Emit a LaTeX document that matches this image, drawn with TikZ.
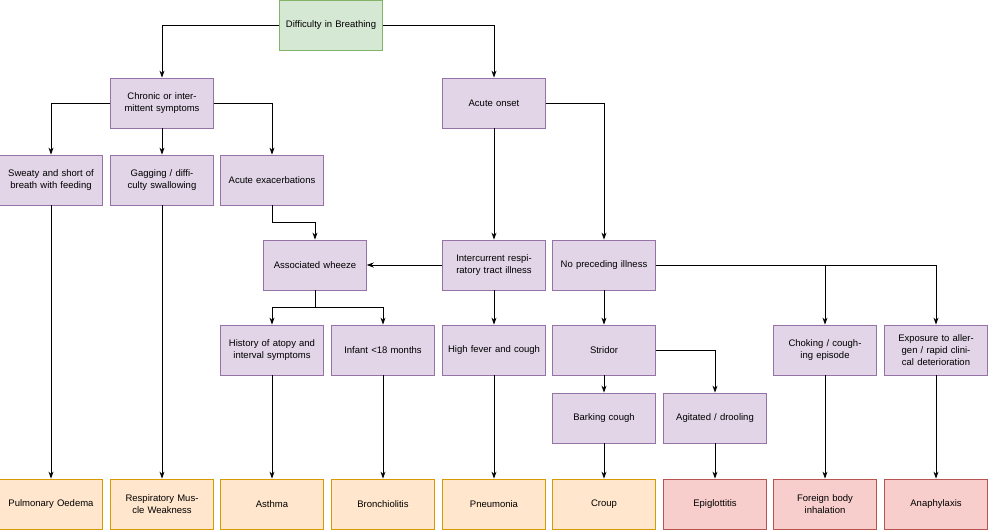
\documentclass[tikz,border=0pt]{standalone}
\usepackage{fontspec}
\setmainfont{Liberation Sans}
\usetikzlibrary{arrows.meta}
\definecolor{pfill}{HTML}{E1D5E7}\definecolor{pline}{HTML}{9673A6}
\definecolor{gfill}{HTML}{D5E8D4}\definecolor{gline}{HTML}{82B366}
\definecolor{ofill}{HTML}{FFE6CC}\definecolor{oline}{HTML}{D79B00}
\definecolor{rfill}{HTML}{F8CECC}\definecolor{rline}{HTML}{B85450}
\tikzset{
  box/.style={draw=pline, fill=pfill, line width=0.8pt, minimum width=102pt, minimum height=50pt,
    text width=96pt, align=center, font=\fontsize{9.5}{12}\selectfont},
  root/.style={box, draw=gline, fill=gfill},
  dx/.style={box, draw=oline, fill=ofill},
  urgent/.style={box, draw=rline, fill=rfill},
  arr/.style={-{Stealth[length=7pt,width=5pt]}, line width=0.8pt}
}
\begin{document}
\begin{tikzpicture}[x=1pt,y=-1pt]
\useasboundingbox (0,0) rectangle (988,530);
\node[root] (top) at (331,25) {Difficulty in Breathing};
\node[box] (chronic) at (162,103) {Chronic or intermittent symptoms};
\node[box] (acute) at (494,103) {Acute onset};
\node[box] (sweaty) at (51,180) {Sweaty and short of breath with feeding};
\node[box] (gag) at (162,180) {Gagging / difficulty swallowing};
\node[box] (exac) at (272,180) {Acute exacerbations};
\node[box] (wheeze) at (315,265) {Associated wheeze};
\node[box] (inter) at (494,265) {Intercurrent respiratory tract illness};
\node[box] (noill) at (604,265) {No preceding illness};
\node[box] (atopy) at (272,350) {History of atopy and interval symptoms};
\node[box] (infant) at (383,350) {Infant <18 months};
\node[box] (fever) at (494,350) {High fever and cough};
\node[box] (stridor) at (604,350) {Stridor};
\node[box] (choke) at (825,350) {Choking / coughing episode};
\node[box] (expo) at (936,350) {Exposure to allergen / rapid clinical deterioration};
\node[box] (bark) at (604,418) {Barking cough};
\node[box] (drool) at (715,418) {Agitated / drooling};

\node[dx] (oedema) at (51,504) {Pulmonary Oedema};
\node[dx] (weak) at (162,504) {Respiratory Muscle Weakness};
\node[dx] (asthma) at (272,504) {Asthma};
\node[dx] (bronch) at (383,504) {Bronchiolitis};
\node[dx] (pneu) at (494,504) {Pneumonia};
\node[dx] (croup) at (604,504) {Croup};
\node[urgent] (epi) at (715,504) {Epiglottitis};
\node[urgent] (fb) at (825,504) {Foreign body inhalation};
\node[urgent] (ana) at (936,504) {Anaphylaxis};

\draw[arr] (top.west) -| (chronic);
\draw[arr] (top.east) -| (acute);
\draw[arr] (chronic.west) -| (sweaty);
\draw[arr] (chronic) -- (gag);
\draw[arr] (chronic.east) -| (exac);
\draw[arr] (acute) -- (inter);
\draw[arr] (acute.east) -| (noill);
\draw[arr] (exac.south) |- (315,222) -- (wheeze);
\draw[arr] (inter) -- (wheeze);
\draw[arr] (wheeze.south) |- (272,307) -- (atopy);
\draw[arr] (wheeze.south) |- (383,307) -- (infant);
\draw[arr] (inter) -- (fever);
\draw[arr] (noill) -- (stridor);
\draw[arr] (noill.east) -| (choke);
\draw[arr] (noill.east) -| (expo);
\draw[arr] (stridor) -- (bark);
\draw[arr] (stridor.east) -| (drool);

\draw[arr] (sweaty) -- (oedema);
\draw[arr] (gag) -- (weak);
\draw[arr] (atopy) -- (asthma);
\draw[arr] (infant) -- (bronch);
\draw[arr] (fever) -- (pneu);
\draw[arr] (bark) -- (croup);
\draw[arr] (drool) -- (epi);
\draw[arr] (choke) -- (fb);
\draw[arr] (expo) -- (ana);
\end{tikzpicture}
\end{document}
